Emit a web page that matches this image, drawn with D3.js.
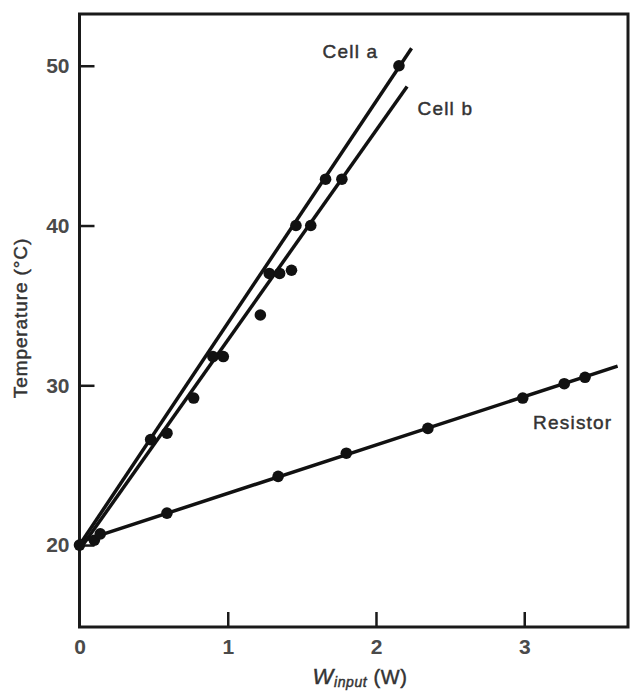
<!DOCTYPE html>
<html>
<head>
<meta charset="utf-8">
<script src="https://cdn.jsdelivr.net/npm/d3@7"></script>
<style>
  body { margin: 0; background: #fff; }
  svg { display: block; }
  .tick text { font-family: "Liberation Sans", Arial, sans-serif; font-weight: bold; font-size: 21px; fill: #4a4a4a; }
  .label { font-family: "Liberation Sans", Arial, sans-serif; fill: #333; stroke: #333; stroke-width: 0.45; }
</style>
</head>
<body>
<div id="chart"></div>
<script>
// values: [W_input (W), temperature (degC)]
const cellAPoints = [[0, 20], [0.10, 20.3], [0.48, 26.6], [0.90, 31.8], [1.28, 37.0], [1.46, 40.0], [1.66, 42.9], [2.155, 50.0]];
const cellBPoints = [[0.14, 20.7], [0.59, 27.0], [0.77, 29.2], [0.97, 31.8], [1.22, 34.4], [1.35, 37.0], [1.43, 37.2], [1.56, 40.0], [1.77, 42.9]];
const resistorPoints = [[0.59, 22.0], [1.34, 24.3], [1.80, 25.75], [2.35, 27.3], [2.99, 29.2], [3.27, 30.1], [3.41, 30.5]];

// fitted straight lines as drawn on the figure (end points)
const cellALine = [[0, 20], [2.24, 51.1]];
const cellBLine = [[0.03, 20.1], [2.21, 48.7]];
const resistorLine = [[0, 20.2], [3.63, 31.2]];

const xTicks = [0, 1, 2, 3];
const yTicks = [20, 30, 40, 50];
const xDomain = [0, 3.7];
const yDomain = [14.87, 53.24];

const outerWidth = 630, outerHeight = 692;
const margin = {top: 14, right: 2, bottom: 65, left: 79.5};

const svg = d3.select("#chart").append("svg")
    .attr("width", outerWidth)
    .attr("height", outerHeight);

const x = d3.scaleLinear().domain(xDomain).range([margin.left, outerWidth - margin.right]);
const y = d3.scaleLinear().domain(yDomain).range([outerHeight - margin.bottom, margin.top]);

// axes, ticks pointing inward
const xAxis = d3.axisBottom(x).tickValues(xTicks).tickFormat(d3.format("d"))
    .tickSizeInner(-15).tickSizeOuter(0).tickPadding(12);
const yAxis = d3.axisLeft(y).tickValues(yTicks).tickFormat(d3.format("d"))
    .tickSizeInner(-15).tickSizeOuter(0).tickPadding(10);

const gx = svg.append("g")
    .attr("transform", "translate(0," + y.range()[0] + ")")
    .call(xAxis);
const gy = svg.append("g")
    .attr("transform", "translate(" + x.range()[0] + ",0)")
    .call(yAxis);
[gx, gy].forEach(function(g) {
  g.select(".domain").remove();
  g.selectAll(".tick line").attr("stroke", "#1a1a1a").attr("stroke-width", 2.5);
});
gx.selectAll(".tick").filter(d => d === 0).select("line").remove();

// frame
svg.append("rect")
    .attr("x", x.range()[0])
    .attr("y", y.range()[1])
    .attr("width", x.range()[1] - x.range()[0])
    .attr("height", y.range()[0] - y.range()[1])
    .attr("fill", "none")
    .attr("stroke", "#1a1a1a")
    .attr("stroke-width", 3);

const line = d3.line().x(d => x(d[0])).y(d => y(d[1]));

[cellALine, cellBLine, resistorLine].forEach(function(l) {
  svg.append("path")
      .attr("d", line(l))
      .attr("fill", "none")
      .attr("stroke", "#111")
      .attr("stroke-width", 3.5);
});

const allPoints = cellAPoints.concat(cellBPoints, resistorPoints);
svg.append("g").selectAll("circle")
    .data(allPoints)
    .join("circle")
    .attr("cx", d => x(d[0]))
    .attr("cy", d => y(d[1]))
    .attr("r", 5.8)
    .attr("fill", "#111");

// series labels
const seriesLabels = [
  {text: "Cell a", at: [1.64, 50.5]},
  {text: "Cell b", at: [2.28, 46.9]},
  {text: "Resistor", at: [3.06, 27.27]}
];
svg.append("g").selectAll("text")
    .data(seriesLabels)
    .join("text")
    .attr("class", "label")
    .attr("x", d => x(d.at[0]))
    .attr("y", d => y(d.at[1]))
    .attr("font-size", 19)
    .attr("letter-spacing", 1.2)
    .text(d => d.text);

// y axis title
svg.append("text")
    .attr("class", "label")
    .attr("transform", "translate(27," + 318 + ") rotate(-90)")
    .attr("text-anchor", "middle")
    .attr("font-size", 19)
    .attr("letter-spacing", 0.9)
    .text("Temperature (\u00b0C)");

// x axis title with subscript
const xt = svg.append("text")
    .attr("class", "label")
    .attr("x", 360)
    .attr("y", 684)
    .attr("text-anchor", "middle")
    .attr("font-size", 20)
    .attr("letter-spacing", 0.6);
xt.append("tspan").attr("font-style", "italic").attr("font-size", 22).text("W");
xt.append("tspan").attr("font-style", "italic").attr("font-size", 14).attr("dy", 3).text("input");
xt.append("tspan").attr("dy", -3).text(" (W)");
</script>
</body>
</html>
